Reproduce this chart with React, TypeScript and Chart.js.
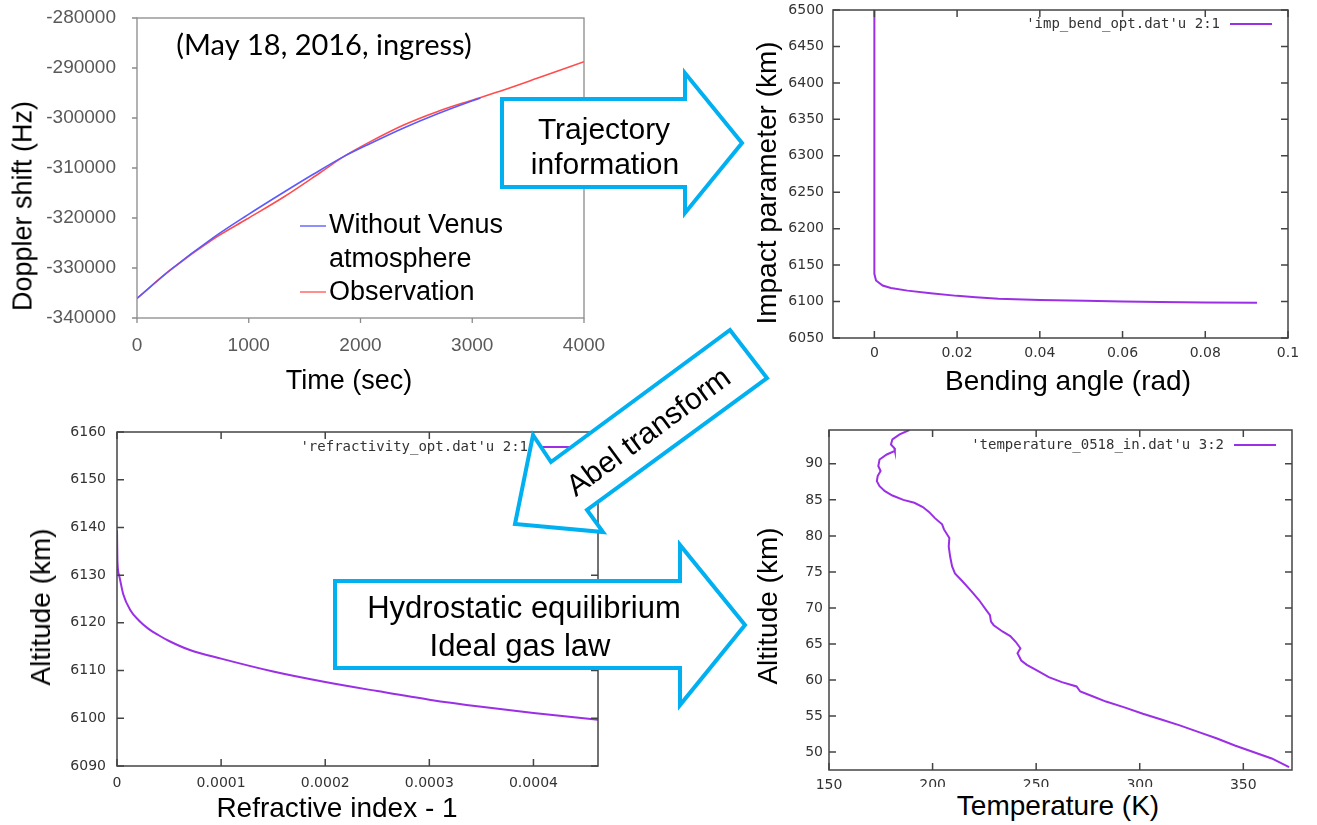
import React, { useEffect, useRef } from 'react';
import { Chart, registerables } from 'chart.js';

Chart.register(...registerables);

// ---------------- Data ----------------
// Panel 1: Doppler shift vs time
const obsTime = [0, 298, 686, 984, 1313, 1641, 1849, 2088, 2386, 2685, 2983, 3281, 3580, 4000];
const obsDoppler = [-336070, -330400, -324150, -320200, -315800, -310900, -307730, -304730, -301400, -298730, -296530, -294400, -292070, -288730];
const modelTime = [0, 298, 686, 984, 1313, 1581, 1849, 2088, 2386, 2685, 2983, 3073];
const modelDoppler = [-336070, -330400, -323870, -319470, -314850, -311200, -307730, -305100, -302000, -299200, -296700, -296000];
const dopplerXTicks = [0, 1000, 2000, 3000, 4000];
const dopplerYTicks = [-340000, -330000, -320000, -310000, -300000, -290000, -280000];

// Panel 2: impact parameter vs bending angle
const bendAngle = [0, 0, 0.0004, 0.002, 0.004, 0.008, 0.0136, 0.02, 0.0245, 0.03, 0.04, 0.051, 0.06, 0.069, 0.08, 0.0925];
const impactParam = [6500, 6138, 6129, 6122, 6118.5, 6115, 6111.5, 6107.8, 6106, 6104, 6102.3, 6101.2, 6100.2, 6099.3, 6098.6, 6098.2];
const bendXTicks = [0, 0.02, 0.04, 0.06, 0.08, 0.1];
const bendXLabels = ['0', '0.02', '0.04', '0.06', '0.08', '0.1'];
const impactYTicks = [6050, 6100, 6150, 6200, 6250, 6300, 6350, 6400, 6450, 6500];

// Panel 3: altitude vs refractivity
const refractivity = [0, 0.0000004, 0.000002, 0.000006, 0.000013, 0.000021, 0.00003, 0.00004, 0.00005, 0.00007, 0.0001, 0.00015, 0.0002, 0.00025, 0.0003, 0.00035, 0.0004, 0.000462];
const refrAltitude = [6139.4, 6133, 6130, 6126, 6122.6, 6120.5, 6118.8, 6117.4, 6116.2, 6114.3, 6112.5, 6109.8, 6107.6, 6105.7, 6103.9, 6102.4, 6101.1, 6099.7];
const refrXTicks = [0, 0.0001, 0.0002, 0.0003, 0.0004];
const refrXLabels = ['0', '0.0001', '0.0002', '0.0003', '0.0004'];
const refrYTicks = [6090, 6100, 6110, 6120, 6130, 6140, 6150, 6160];

// Panel 4: altitude vs temperature
const temperature = [188.8, 184.1, 180.6, 179.9, 181.5, 181.8, 177.9, 174.4, 173.8, 174.9, 173.5, 173.1, 174.4, 177, 180.6, 185.9, 191.2, 195.3, 198.4, 201, 204.6, 205.5, 208.1, 207.8, 208.5, 209.4, 210.8, 214.4, 218.8, 222.4, 225.9, 227.7, 228.2, 229.5, 233.9, 237.5, 240.1, 242.4, 241, 242.8, 245.5, 249.9, 256.1, 262.4, 269.5, 271.3, 277.5, 283.7, 292.6, 301.5, 310.4, 319.3, 328.2, 337, 345.9, 354.8, 363.7, 372.1];
const tempAltitude = [94.7, 94.1, 93.4, 92.7, 92.2, 91.8, 91.3, 90.6, 89.7, 89, 88.3, 87.6, 86.9, 86.2, 85.6, 85, 84.6, 84, 83.3, 82.5, 81.6, 80.9, 79.7, 78.5, 77.1, 75.8, 74.8, 73.7, 72.3, 71.1, 69.7, 69, 68.1, 67.6, 66.7, 66.1, 65.3, 64.4, 63.7, 62.7, 62.1, 61.4, 60.4, 59.7, 59.1, 58.4, 57.7, 57, 56.2, 55.3, 54.5, 53.7, 52.8, 51.9, 50.9, 50, 49.1, 47.9];
const tempXTicks = [150, 200, 250, 300, 350];
const tempYTicks = [50, 55, 60, 65, 70, 75, 80, 85, 90];

// ---------------- Helpers ----------------
const zip = (xs: number[], ys: number[]) => xs.map((x, i) => ({ x, y: ys[i] }));

const frameTicksPlugin = {
  id: 'frameTicks',
  afterDraw(chart: any, _args: any, o: any) {
    if (!o || !o.color) return;
    const { ctx, chartArea: a } = chart;
    const xs = chart.scales.x;
    const ys = chart.scales.y;
    ctx.save();
    ctx.strokeStyle = o.color;
    ctx.lineWidth = o.width;
    ctx.strokeRect(a.left, a.top, a.right - a.left, a.bottom - a.top);
    ctx.beginPath();
    const L = o.len;
    xs.ticks.forEach((t: any) => {
      const px = xs.getPixelForValue(t.value);
      if (o.inward) {
        ctx.moveTo(px, a.bottom); ctx.lineTo(px, a.bottom - L);
        ctx.moveTo(px, a.top); ctx.lineTo(px, a.top + L);
      } else {
        ctx.moveTo(px, a.bottom); ctx.lineTo(px, a.bottom + L);
      }
    });
    ys.ticks.forEach((t: any) => {
      const py = ys.getPixelForValue(t.value);
      if (o.inward) {
        ctx.moveTo(a.left, py); ctx.lineTo(a.left + L, py);
        ctx.moveTo(a.right, py); ctx.lineTo(a.right - L, py);
      } else {
        ctx.moveTo(a.left, py); ctx.lineTo(a.left - L, py);
      }
    });
    ctx.stroke();
    ctx.restore();
  },
};

const seriesKeyPlugin = {
  id: 'seriesKey',
  afterDraw(chart: any, _args: any, o: any) {
    if (!o || !o.items) return;
    const { ctx, chartArea: a } = chart;
    o.items.forEach((it: any) => {
      ctx.save();
      ctx.font = it.font;
      ctx.fillStyle = it.textColor || '#000';
      ctx.textBaseline = 'middle';
      ctx.textAlign = it.align || 'left';
      (it.lines || []).forEach((line: string, i: number) => {
        ctx.fillText(line, a.left + it.tx, a.top + it.ty + i * (it.lh || 0));
      });
      if (it.color) {
        ctx.strokeStyle = it.color;
        ctx.lineWidth = it.lw || 1.5;
        ctx.beginPath();
        ctx.moveTo(a.left + it.x1, a.top + it.ly);
        ctx.lineTo(a.left + it.x2, a.top + it.ly);
        ctx.stroke();
      }
      ctx.restore();
    });
  },
};

function axis(opts: {
  min: number; max: number; values: number[]; labels?: string[];
  horizontal: boolean; size: number; font: any; color: string; padding: number;
}) {
  return {
    type: 'linear',
    min: opts.min,
    max: opts.max,
    bounds: 'data',
    afterBuildTicks: (s: any) => { s.ticks = opts.values.map((v) => ({ value: v })); },
    afterFit: (s: any) => {
      if (opts.horizontal) s.height = opts.size; else s.width = opts.size;
      s.paddingTop = 0; s.paddingBottom = 0; s.paddingLeft = 0; s.paddingRight = 0;
    },
    grid: { display: false, drawTicks: false },
    border: { display: false },
    ticks: {
      autoSkip: false,
      maxRotation: 0,
      minRotation: 0,
      padding: opts.padding,
      font: opts.font,
      color: opts.color,
      callback: (_v: any, i: number) => (opts.labels ? opts.labels[i] : String(opts.values[i])),
    },
  };
}

const GNU_FONT = { family: 'DejaVu Sans', size: 14 };
const GNU_COLOR = '#333';
const PURPLE = '#9b2fe6';

function baseOptions(padding: any, x: any, y: any, plugins: any) {
  return {
    responsive: false,
    animation: false,
    devicePixelRatio: 1,
    layout: { padding, autoPadding: false },
    plugins: { legend: { display: false }, tooltip: { enabled: false }, ...plugins },
    scales: { x, y },
  };
}

// ---------------- Chart configs ----------------
const dopplerConfig = () => ({
  type: 'line',
  data: {
    datasets: [
      { label: 'Without Venus atmosphere', data: zip(modelTime, modelDoppler), borderColor: '#5a5aff', borderWidth: 1.6, pointRadius: 0, fill: false, cubicInterpolationMode: 'monotone' },
      { label: 'Observation', data: zip(obsTime, obsDoppler), borderColor: '#ff4d4d', borderWidth: 1.6, pointRadius: 0, fill: false, cubicInterpolationMode: 'monotone' },
    ],
  },
  options: baseOptions(
    { left: 0, top: 18, right: 40, bottom: 0 },
    axis({ min: 0, max: 4000, values: dopplerXTicks, horizontal: true, size: 60, font: { family: 'Liberation Sans', size: 19 }, color: '#595959', padding: 16 }),
    axis({ min: -340000, max: -280000, values: dopplerYTicks, horizontal: false, size: 137, font: { family: 'Liberation Sans', size: 19 }, color: '#595959', padding: 21 }),
    {
      frameTicks: { color: '#8a8a8a', width: 1.3, len: 5, inward: false },
      seriesKey: {
        items: [
          { font: '29px Lato', lines: ['(May 18, 2016, ingress)'], align: 'center', tx: 187, ty: 28 },
          { font: '27px "Liberation Sans"', lines: ['Without Venus', 'atmosphere'], tx: 192, ty: 208, lh: 34, color: '#6a6aff', x1: 163, x2: 189, ly: 208, lw: 1.5 },
          { font: '27px "Liberation Sans"', lines: ['Observation'], tx: 192, ty: 275, color: '#ff6a6a', x1: 163, x2: 189, ly: 274, lw: 1.5 },
        ],
      },
    },
  ),
  plugins: [frameTicksPlugin, seriesKeyPlugin],
});

function gnuKey(text: string, tx: number, ty: number) {
  return {
    items: [
      { font: '14px "DejaVu Sans Mono"', textColor: '#333', lines: [text], align: 'right', tx, ty, color: PURPLE, x1: tx + 10, x2: tx + 52, ly: ty, lw: 2 },
    ],
  };
}

const bendConfig = () => ({
  type: 'line',
  data: { datasets: [{ label: "'imp_bend_opt.dat'u 2:1", data: zip(bendAngle, impactParam), borderColor: PURPLE, borderWidth: 2, pointRadius: 0, fill: false, tension: 0 }] },
  options: baseOptions(
    { left: 0, top: 10, right: 30, bottom: 0 },
    axis({ min: -0.01, max: 0.1, values: bendXTicks, labels: bendXLabels, horizontal: true, size: 40, font: GNU_FONT, color: GNU_COLOR, padding: 7 }),
    axis({ min: 6050, max: 6500, values: impactYTicks, horizontal: false, size: 80, font: GNU_FONT, color: GNU_COLOR, padding: 9 }),
    { frameTicks: { color: '#444', width: 1.5, len: 7, inward: true }, seriesKey: gnuKey("'imp_bend_opt.dat'u 2:1", 387, 14) },
  ),
  plugins: [frameTicksPlugin, seriesKeyPlugin],
});

const refrConfig = () => ({
  type: 'line',
  data: { datasets: [{ label: "'refractivity_opt.dat'u 2:1", data: zip(refractivity, refrAltitude), borderColor: PURPLE, borderWidth: 2, pointRadius: 0, fill: false, cubicInterpolationMode: 'monotone' }] },
  options: baseOptions(
    { left: 0, top: 12, right: 30, bottom: 0 },
    axis({ min: 0, max: 0.000462, values: refrXTicks, labels: refrXLabels, horizontal: true, size: 40, font: GNU_FONT, color: GNU_COLOR, padding: 9 }),
    axis({ min: 6090, max: 6160, values: refrYTicks, horizontal: false, size: 80, font: GNU_FONT, color: GNU_COLOR, padding: 11 }),
    { frameTicks: { color: '#444', width: 1.5, len: 7, inward: true }, seriesKey: gnuKey("'refractivity_opt.dat'u 2:1", 411, 15) },
  ),
  plugins: [frameTicksPlugin, seriesKeyPlugin],
});

const tempConfig = () => ({
  type: 'line',
  data: { datasets: [{ label: "'temperature_0518_in.dat'u 3:2", data: zip(temperature, tempAltitude), borderColor: PURPLE, borderWidth: 2, pointRadius: 0, fill: false, tension: 0 }] },
  options: baseOptions(
    { left: 0, top: 12, right: 30, bottom: 0 },
    axis({ min: 150, max: 373.5, values: tempXTicks, horizontal: true, size: 40, font: GNU_FONT, color: GNU_COLOR, padding: 7 }),
    axis({ min: 47.5, max: 94.7, values: tempYTicks, horizontal: false, size: 80, font: GNU_FONT, color: GNU_COLOR, padding: 6 }),
    { frameTicks: { color: '#444', width: 1.5, len: 7, inward: true }, seriesKey: gnuKey("'temperature_0518_in.dat'u 3:2", 395, 15) },
  ),
  plugins: [frameTicksPlugin, seriesKeyPlugin],
});

// ---------------- Components ----------------
function ChartCanvas(props: { left: number; top: number; width: number; height: number; make: () => any }) {
  const ref = useRef<HTMLCanvasElement>(null);
  useEffect(() => {
    const chart = new Chart(ref.current as HTMLCanvasElement, props.make() as any);
    return () => chart.destroy();
  }, []);
  return (
    <canvas
      ref={ref}
      width={props.width}
      height={props.height}
      style={{ position: 'absolute', left: props.left, top: props.top, width: props.width, height: props.height }}
    />
  );
}

function Title(props: { text: string; x: number; y: number; size: number; rotate?: boolean; bg?: boolean; bgW?: number; bgH?: number }) {
  const style: any = {
    position: 'absolute',
    left: props.x,
    top: props.y,
    transform: `translate(-50%, -50%)${props.rotate ? ' rotate(-90deg)' : ''}`,
    fontFamily: '"Liberation Sans", Arial, sans-serif',
    fontSize: props.size,
    lineHeight: 1,
    whiteSpace: 'nowrap',
    color: '#000',
  };
  if (props.bg) {
    style.background = '#fff';
    style.width = props.bgW;
    style.height = props.bgH;
    style.display = 'flex';
    style.alignItems = 'center';
    style.justifyContent = 'center';
  }
  return <div style={style}>{props.text}</div>;
}

const BLUE = '#00b0f0';

function Arrows() {
  const font = '"Liberation Sans", Arial, sans-serif';
  return (
    <svg width={1317} height={825} style={{ position: 'absolute', left: 0, top: 0 }}>
      <polygon points="502,99 685,99 685,73 742,143 685,213 685,187 502,187" fill="#fff" stroke={BLUE} strokeWidth={4} strokeLinejoin="miter" />
      <text x={604} y={128} fontFamily={font} fontSize={30} textAnchor="middle" dominantBaseline="central">Trajectory</text>
      <text x={605} y={163} fontFamily={font} fontSize={30} textAnchor="middle" dominantBaseline="central">information</text>

      <polygon points="515,524 533,435 551,462 730,330 767,378 587,510 603,532" fill="#fff" stroke={BLUE} strokeWidth={4} strokeLinejoin="miter" />
      <text x={648} y={431} fontFamily={font} fontSize={30} textAnchor="middle" dominantBaseline="central" transform="rotate(-36.4 648 431)">Abel transform</text>

      <polygon points="335,581 680,581 680,545 745,625 680,705 680,668 335,668" fill="#fff" stroke={BLUE} strokeWidth={4} strokeLinejoin="miter" />
      <text x={524} y={607} fontFamily={font} fontSize={31} textAnchor="middle" dominantBaseline="central">Hydrostatic equilibrium</text>
      <text x={520} y={645} fontFamily={font} fontSize={31} textAnchor="middle" dominantBaseline="central">Ideal gas law</text>
    </svg>
  );
}

export default function App() {
  return (
    <div style={{ position: 'absolute', left: 0, top: 0, width: 1317, height: 825, background: '#fff', overflow: 'hidden' }}>
      <ChartCanvas left={0} top={0} width={624} height={378} make={dopplerConfig} />
      <ChartCanvas left={753} top={0} width={565} height={378} make={bendConfig} />
      <ChartCanvas left={37} top={420} width={591} height={386} make={refrConfig} />
      <ChartCanvas left={749} top={418} width={573} height={392} make={tempConfig} />

      <Title text="Doppler shift (Hz)" x={23} y={206} size={27} rotate />
      <Title text="Time (sec)" x={349} y={380} size={27} />
      <Title text="Impact parameter (km)" x={767} y={183} size={28} rotate />
      <Title text="Bending angle (rad)" x={1068} y={381} size={28} />
      <Title text="Altitude (km)" x={41} y={607} size={28} rotate />
      <Title text="Refractive index - 1" x={337} y={808} size={28} />
      <Title text="Altitude (km)" x={768} y={606} size={28} rotate />
      <Title text="Temperature (K)" x={1058} y={806} size={28} bg bgW={290} bgH={38} />

      <Arrows />
    </div>
  );
}
